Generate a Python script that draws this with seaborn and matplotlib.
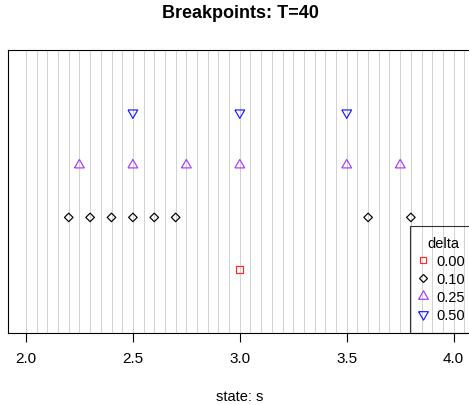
import numpy as np
import pandas as pd
import matplotlib
matplotlib.use("Agg")
import matplotlib.pyplot as plt
from matplotlib.lines import Line2D
import seaborn as sns

# breakpoint locations of the state s for each delta
deltas = ["0.00", "0.10", "0.25", "0.50"]
bp_000 = [3.0]
bp_010 = [2.2, 2.3, 2.4, 2.5, 2.6, 2.7, 3.6, 3.8]
bp_025 = [2.25, 2.5, 2.75, 3.0, 3.5, 3.75]
bp_050 = [2.5, 3.0, 3.5]
x_ticks = [2.0, 2.5, 3.0, 3.5, 4.0]
x_tick_labels = ["2.0", "2.5", "3.0", "3.5", "4.0"]

colors = ["#FF2A2A", "black", "#A63CF5", "#1A1AFF"]
# equilateral open triangles, centred on their centroid
tri_up = [(-1.0, -0.577), (1.0, -0.577), (0.0, 1.155), (-1.0, -0.577)]
tri_down = [(x, -y) for x, y in tri_up]
markers = ["s", "D", tri_up, tri_down]
sizes = [25, 19, 66, 66]

sns.set_style("white")
plt.rcParams["font.family"] = ["Liberation Sans", "DejaVu Sans"]
plt.rcParams["text.color"] = "black"
plt.rcParams["xtick.color"] = "black"
plt.rcParams["axes.labelcolor"] = "black"

fig = plt.figure(figsize=(4.69, 4.06), dpi=100)
ax = fig.add_axes([8 / 469, 72.5 / 406, 485 / 469, 282.5 / 406])

# light vertical guide lines every 0.05
for gx in np.arange(2.0, 4.2, 0.05):
    ax.axvline(gx, color="#D3D3D3", lw=0.75, zorder=0)

groups = [bp_000, bp_010, bp_025, bp_050]
for i, (d, vals) in enumerate(zip(deltas, groups)):
    df = pd.DataFrame({"s": vals, "level": [i + 1] * len(vals)})
    sns.scatterplot(data=df, x="s", y="level", marker=markers[i], s=sizes[i],
                    color=colors[i], facecolor="none", edgecolor=colors[i],
                    linewidth=0.85, ax=ax, zorder=3, legend=False)

ax.set_xlim(1.916, 4.184)
ax.set_ylim(-0.2, 5.2)
ax.set_yticks([])
ax.set_xticks(x_ticks)
ax.set_xticklabels(x_tick_labels, fontsize=11)
ax.tick_params(axis="x", direction="out", length=6.5, width=0.8,
               color="black", pad=7, bottom=True)
ax.set_xlabel("")
ax.set_ylabel("")
for sp in ax.spines.values():
    sp.set_color("black")
    sp.set_linewidth(0.8)

handles = [Line2D([], [], linestyle="none", marker=m, markersize=float(np.sqrt(sz)),
                  markerfacecolor="none", markeredgecolor=c, markeredgewidth=0.85)
           for m, c, sz in zip(markers, colors, sizes)]
leg = ax.legend(handles, deltas, title="delta", loc="lower left",
                bbox_to_anchor=(0.829, 0.0), fontsize=10.5, title_fontsize=10.5,
                frameon=True, fancybox=False, facecolor="none",
                handlelength=0.4, handletextpad=0.7, labelspacing=0.27,
                borderpad=0.72, borderaxespad=0)
leg.get_frame().set_edgecolor("black")
leg.get_frame().set_linewidth(0.8)
leg.set_zorder(5)

fig.text(240 / 469, 1 - 13.5 / 406, "Breakpoints: T=40", ha="center",
         va="center", fontsize=13, fontweight="bold")
fig.text(240 / 469, 1 - 397.5 / 406, "state: s", ha="center", va="center",
         fontsize=10.5)

fig.savefig("out.png", dpi=100)
